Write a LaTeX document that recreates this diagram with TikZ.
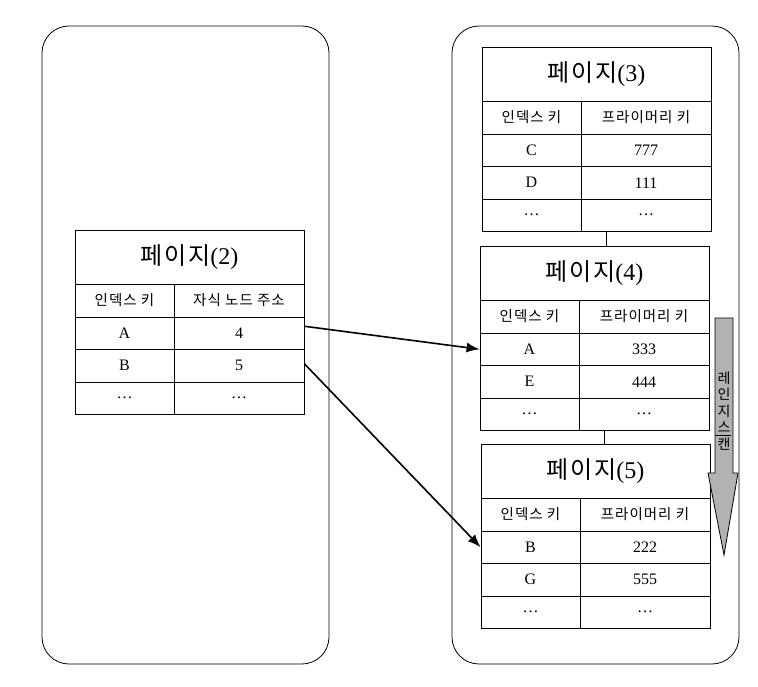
\documentclass[tikz,border=0pt]{standalone}
\usepackage{fontspec}
\setmainfont{Liberation Serif}
\newfontfamily\kr[LetterSpace=7]{Noto Sans CJK KR}
\usetikzlibrary{arrows.meta}

% one page of the index: name, left, top, number, 2nd header, row cells
\newcommand\pagetab[9]{%
 \begin{scope}[shift={(#2,#3)}]
  \node[tab] (#1) at (0,0) {};
  \draw (0,54)--(229,54) (0,87)--(229,87) (0,119.5)--(229,119.5) (0,152)--(229,152);
  \draw (99,54)--(99,184);
  \node[ttl] (#1t) at (114.5,27) {{\kr 페이지}(#4)};
  \node[hdr] (#1h1) at (49.5,70.5) {인덱스 키};
  \node[hdr] (#1h2) at (164,70.5) {#5};
  \node[lcell] (#1a1) at (49.5,103.25) {#6};
  \node[rcell] (#1b1) at (164,103.25) {#7};
  \node[lcell] (#1a2) at (49.5,135.75) {#8};
  \node[rcell] (#1b2) at (164,135.75) {#9};
  \node[lcell] (#1a3) at (49.5,168) {\ldots};
  \node[rcell] (#1b3) at (164,168) {\ldots};
 \end{scope}}

\begin{document}
\begin{tikzpicture}[x=1pt,y=-1pt,line width=.8pt,
  pane/.style={draw,rounded corners=27pt,minimum width=287pt,minimum height=638pt,inner sep=0},
  tab/.style={draw,anchor=north west,minimum width=229pt,minimum height=184pt,inner sep=0},
  ttl/.style={inner sep=0,font=\fontsize{24}{26}\selectfont},
  hdr/.style={inner sep=0,font=\kr\fontsize{14.5}{16}\selectfont},
  lcell/.style={inner sep=0,minimum width=99pt,minimum height=32pt,font=\fontsize{16}{18}\selectfont},
  rcell/.style={inner sep=0,minimum width=130pt,minimum height=32pt,font=\fontsize{16}{18}\selectfont},
  link/.style={line width=1.6pt,-{Latex[length=13pt,width=10pt]}}]
 \useasboundingbox (0,0) rectangle (758,686);

 \node[pane] (leftpane) at (185.5,345) {};
 \node[pane] (rightpane) at (595.5,345) {};

 \pagetab{p2}{75}{230}{2}{자식 노드 주소}{A}{4}{B}{5}
 \pagetab{p3}{482}{47}{3}{프라이머리 키}{C}{777}{D}{111}
 \pagetab{p4}{480}{246}{4}{프라이머리 키}{A}{333}{E}{444}
 \pagetab{p5}{481}{444}{5}{프라이머리 키}{B}{222}{G}{555}

 % sibling links
 \draw ([xshift=9pt]p3.south) -- ([xshift=9pt]p3.south |- p4.north);
 \draw ([xshift=9pt]p4.south) -- ([xshift=9pt]p4.south |- p5.north);

 % child pointers
 \draw[link] ([yshift=7pt]p2b1.east) -- (p4a1.west);
 \draw[link] ([yshift=2pt]p2b2.east) -- (p5a1.west);

 % range scan
 \draw[fill=black!30] (715,318)--(733,318)--(733,473)--(738,473)--(724,555)--(708,473)--(715,473)--cycle;
 \node[inner sep=0,align=center,font=\kr\fontsize{14}{16.5}\selectfont] (scanlbl) at (724,411) {레\\인\\지\\스\\캔};
 \draw (715,435)--(731,435);
\end{tikzpicture}
\end{document}
